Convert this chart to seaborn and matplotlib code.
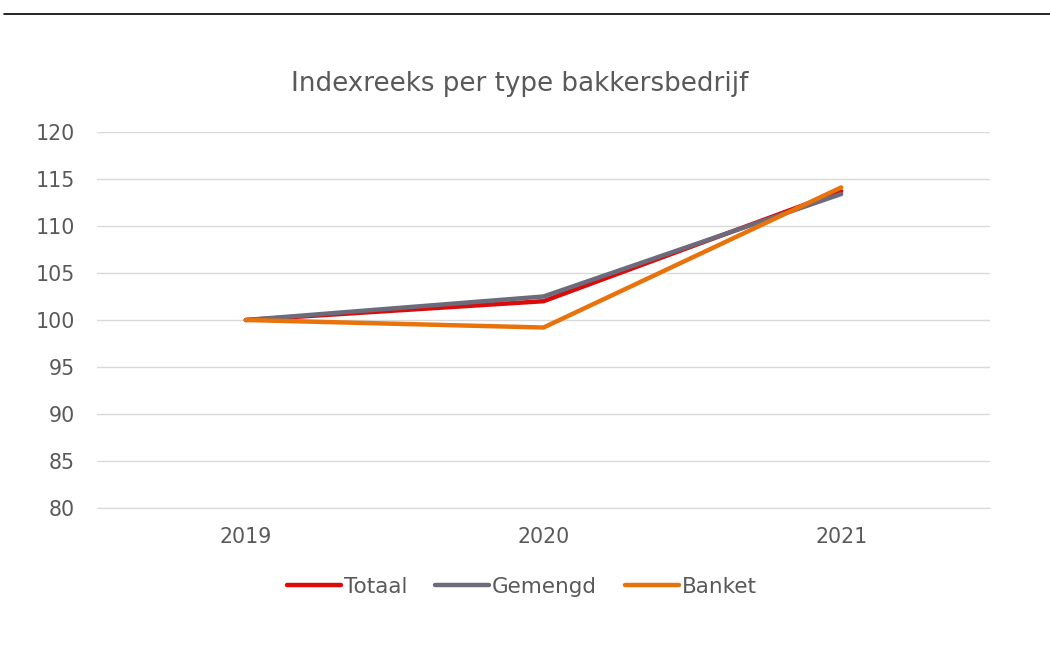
import pandas as pd
import seaborn as sns
import matplotlib.pyplot as plt
from matplotlib.lines import Line2D

# data
jaren = ["2019", "2020", "2021"]
totaal = [100.0, 102.0, 113.7]
gemengd = [100.0, 102.5, 113.4]
banket = [100.0, 99.2, 114.1]

series_names = ["Totaal", "Gemengd", "Banket"]
kleuren = ["#dd0a0a", "#6b6b7b", "#e8730c"]

df = pd.DataFrame({
    "jaar": jaren * 3,
    "index": totaal + gemengd + banket,
    "type": sum([[n] * len(jaren) for n in series_names], []),
})
df["pos"] = df["jaar"].map({j: i for i, j in enumerate(jaren)})

sns.set_style("white")
plt.rcParams["font.family"] = ["DejaVu Sans"]

fig = plt.figure(figsize=(10.5, 6.53), dpi=100)
ax = fig.add_axes([97 / 1050, 1 - 508 / 653, (990 - 97) / 1050, (508 - 132) / 653])

sns.lineplot(data=df, x="pos", y="index", hue="type", hue_order=series_names,
             palette=kleuren, linewidth=3.2, ax=ax, legend=False,
             solid_capstyle="round")

ax.set_xlim(-0.5, 2.5)
ax.set_ylim(80, 120)
ax.set_yticks(range(80, 121, 5))
ax.set_xticks(range(len(jaren)))
ax.set_xticklabels(jaren)
ax.grid(axis="y", color="#d9d9d9", linewidth=1)
ax.set_axisbelow(True)
for s in ["top", "right", "left"]:
    ax.spines[s].set_visible(False)
ax.spines["bottom"].set_color("#d9d9d9")
ax.tick_params(axis="both", length=0, labelsize=14.8, colors="#595959")
ax.tick_params(axis="y", pad=16)
ax.tick_params(axis="x", pad=14)
ax.set_xlabel("")
ax.set_ylabel("")

fig.text(520 / 1050, 1 - 84 / 653, "Indexreeks per type bakkersbedrijf",
         ha="center", va="center", fontsize=18.8, color="#595959")

handles = [Line2D([0], [0], color=c, linewidth=3.2, solid_capstyle="round") for c in kleuren]
fig.legend(handles, series_names, loc="center", bbox_to_anchor=(522 / 1050, 1 - 587 / 653),
           ncol=3, frameon=False, fontsize=15.5, labelcolor="#595959",
           handlelength=2.5, handletextpad=0.15, columnspacing=1.3)

# thin black rule across the top
fig.add_artist(Line2D([4 / 1050, 1], [1 - 14 / 653, 1 - 14 / 653], color="black",
                      linewidth=1.2, transform=fig.transFigure))

fig.savefig("out.png", dpi=100)
